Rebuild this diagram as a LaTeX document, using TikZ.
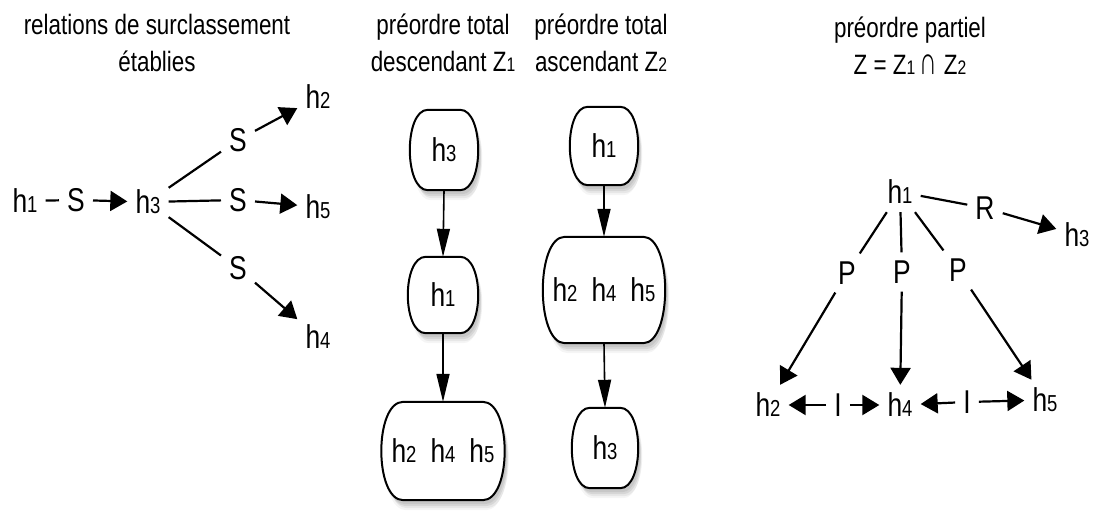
\documentclass[tikz,border=0pt]{standalone}
\usepackage{fontspec}
\usepackage{graphicx}
\setmainfont[FakeStretch=0.8]{Liberation Sans}
\usetikzlibrary{arrows.meta}
\newcommand\dg[1]{\scalebox{0.7}{#1}}
\newcommand\boxpath[2]{([xshift=#2]#1.north west) -- ([xshift=-#2]#1.north east)
  .. controls ([xshift=#2/3]#1.north east) and ([xshift=#2/3]#1.south east) .. ([xshift=-#2]#1.south east)
  -- ([xshift=#2]#1.south west)
  .. controls ([xshift=-#2/3]#1.south west) and ([xshift=-#2/3]#1.north west) .. cycle}
\newcommand\drawbox[2]{%
  \begin{scope}[transform canvas={xshift=2pt,yshift=-4pt}]\fill[black,opacity=.07] \boxpath{#1}{#2};\end{scope}
  \begin{scope}[transform canvas={xshift=3pt,yshift=-6pt}]\fill[black,opacity=.07] \boxpath{#1}{#2};\end{scope}
  \begin{scope}[transform canvas={xshift=4pt,yshift=-8pt}]\fill[black,opacity=.06] \boxpath{#1}{#2};\end{scope}
  \begin{scope}[transform canvas={xshift=3pt,yshift=-10pt}]\fill[black,opacity=.04] \boxpath{#1}{#2};\end{scope}
  \draw[boxline] \boxpath{#1}{#2};
  \node[font=\fontsize{33}{35}\selectfont] at (#1) {\csname boxtext#1\endcsname};}
\tikzset{
  lbl/.style={font=\fontsize{33}{35}\selectfont, inner sep=8pt},
  ttl/.style={font=\fontsize{28}{37}\selectfont, align=center, inner sep=0pt},
  arr/.style={-{Triangle[length=17pt,width=20pt]}, line width=2.2pt},
  ln/.style={line width=2.2pt},
  box/.style={inner sep=0pt},
  boxline/.style={draw, line width=2pt, fill=white},
  varr/.style={-{Triangle[length=28pt,width=13pt]}, line width=1.6pt}
}
\begin{document}
\begin{tikzpicture}[x=1pt,y=-1pt]
\useasboundingbox (0,0) rectangle (1093,516);
% ---------- left graph ----------
\node[ttl] (t1) at (157,43) {relations de surclassement\\établies};
\node[lbl] (a1) at (25,201) {h\dg1};
\node[lbl] (as0) at (76,200) {S};
\node[lbl] (a3) at (148,202) {h\dg3};
\node[lbl] (asu) at (238,140) {S};
\node[lbl] (asm) at (238,200) {S};
\node[lbl] (asl) at (238,268) {S};
\node[lbl] (a2) at (318,97) {h\dg2};
\node[lbl] (a5) at (318,207) {h\dg5};
\node[lbl] (a4) at (318,337) {h\dg4};
\draw[ln] (a1) -- (as0);
\draw[arr] (as0) -- (a3);
\draw[ln] (a3) -- (asu);
\draw[ln] (a3) -- (asm);
\draw[ln] (a3) -- (asl);
\draw[arr] (asu) -- (a2);
\draw[arr] (asm) -- (a5);
\draw[arr] (asl) -- (a4);
% ---------- Z1 ----------
\node[ttl] (t2) at (443,43) {préordre total\\descendant Z\dg1};
\node[box, minimum width=68pt, minimum height=80pt] (b1) at (444,150) {};
\node[box, minimum width=70pt, minimum height=76pt] (b2) at (443,295) {};
\node[box, minimum width=123pt, minimum height=98pt] (b3) at (443,451) {};
% ---------- Z2 ----------
\node[ttl] (t3) at (601,43) {préordre total\\ascendant Z\dg2};
\node[box, minimum width=68pt, minimum height=78pt] (c1) at (604,146) {};
\node[box, minimum width=122pt, minimum height=106pt] (c2) at (604,290) {};
\node[box, minimum width=66pt, minimum height=80pt] (c3) at (605,448) {};
\draw[varr] (b1.south) -- (b2.north);
\draw[varr] (b2.south) -- (b3.north);
\draw[varr] (c1.south) -- (c2.north);
\draw[varr] (c2.south) -- (c3.north);
\expandafter\def\csname boxtextb1\endcsname{h\dg3}
\expandafter\def\csname boxtextb2\endcsname{h\dg1}
\expandafter\def\csname boxtextb3\endcsname{h\dg2\hspace{14pt}h\dg4\hspace{14pt}h\dg5}
\expandafter\def\csname boxtextc1\endcsname{h\dg1}
\expandafter\def\csname boxtextc2\endcsname{h\dg2\hspace{14pt}h\dg4\hspace{14pt}h\dg5}
\expandafter\def\csname boxtextc3\endcsname{h\dg3}
\drawbox{b1}{18pt}
\drawbox{b2}{18pt}
\drawbox{b3}{22pt}
\drawbox{c1}{18pt}
\drawbox{c2}{22pt}
\drawbox{c3}{18pt}
% ---------- right graph ----------
\node[ttl] (t4) at (910,46) {préordre partiel\\Z = Z\dg1\,\scalebox{1.1}[1.4]{∩} Z\dg2};
\node[lbl] (d1) at (900,192) {h\dg1};
\node[lbl] (dr) at (985,208) {R};
\node[lbl] (d3) at (1077,235) {h\dg3};
\node[lbl] (dp1) at (847,273) {P};
\node[lbl] (dp2) at (902,272) {P};
\node[lbl] (dp3) at (958,270) {P};
\node[lbl] (d2) at (768,405) {h\dg2};
\node[lbl] (d4) at (900,405) {h\dg4};
\node[lbl] (d5) at (1045,400) {h\dg5};
\node[lbl] (di1) at (838,405) {I};
\node[lbl] (di2) at (967,402) {I};
\draw[ln] (d1) -- (dr);
\draw[arr] (dr) -- (d3);
\draw[ln] (d1) -- (dp1);
\draw[ln] (d1) -- (dp2);
\draw[ln] (d1) -- (dp3);
\draw[arr] (dp1) -- (d2);
\draw[arr] (dp2) -- (d4);
\draw[arr] (dp3) -- (d5);
\draw[arr] (di1) -- (d2);
\draw[arr] (di1) -- (d4);
\draw[arr] (di2) -- (d4);
\draw[arr] (di2) -- (d5);
\end{tikzpicture}
\end{document}
